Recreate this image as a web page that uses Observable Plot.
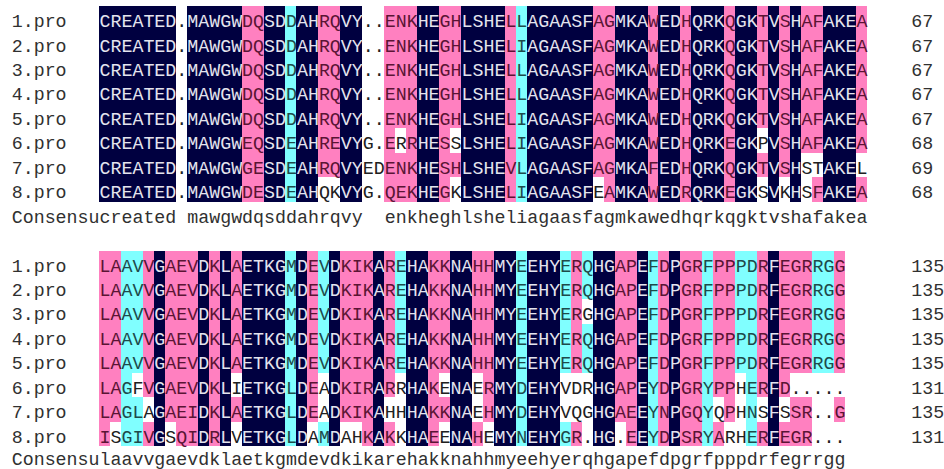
<!DOCTYPE html>
<html><head><meta charset="utf-8">
<script src="https://cdn.jsdelivr.net/npm/d3@7"></script>
<script src="https://cdn.jsdelivr.net/npm/@observablehq/plot@0.6"></script>
<style>body{margin:0;background:#fff}#chart svg{display:block}</style>
</head><body><div id="chart"></div>
<script>
// ---------- data ----------
const seqNames = ["1.pro","2.pro","3.pro","4.pro","5.pro","6.pro","7.pro","8.pro"];

const block1Seqs = [
  "CREATED.MAWGWDQSDDAHRQVY..ENKHEGHLSHELLAGAASFAGMKAWEDHQRKQGKTVSHAFAKEA",
  "CREATED.MAWGWDQSDDAHRQVY..ENKHEGHLSHELIAGAASFAGMKAWEDHQRKQGKTVSHAFAKEA",
  "CREATED.MAWGWDQSDDAHRQVY..ENKHEGHLSHELLAGAASFAGMKAWEDHQRKQGKTVSHAFAKEA",
  "CREATED.MAWGWDQSDDAHRQVY..ENKHEGHLSHELLAGAASFAGMKAWEDHQRKQGKTVSHAFAKEA",
  "CREATED.MAWGWDQSDDAHRQVY..ENKHEGHLSHELIAGAASFAGMKAWEDHQRKQGKTVSHAFAKEA",
  "CREATED.MAWGWEQSDEAHREVYG.ERRHESSLSHELIAGAASFAGMKAWEDHQRKEGKPVSHAFAKEA",
  "CREATED.MAWGWGESDEAHRQVYEDENKHESHLSHEVLAGAASFAGMKAFEDHQRKQGKTVSHSTAKEL",
  "CREATED.MAWGWDESDEAHQKVYG.QEKHEGKLSHELIAGAASFEAMKAWEDRQRKEGKSVKHSFAKEA"
];
// homology shading: N = 100% (navy), P = >=75% (pink), C = >=50% (cyan), W = none
const block1Shade = [
  "NNNNNNNWNNNNNPPNNCNNPPNNWWPPPNNPPNNNNPCNNNNNNPPNNNPNNPNNNPNNPNPNPPNNNP",
  "NNNNNNNWNNNNNPPNNCNNPPNNWWPPPNNPPNNNNPCNNNNNNPPNNNPNNPNNNPNNPNPNPPNNNP",
  "NNNNNNNWNNNNNPPNNCNNPPNNWWPPPNNPPNNNNPCNNNNNNPPNNNPNNPNNNPNNPNPNPPNNNP",
  "NNNNNNNWNNNNNPPNNCNNPPNNWWPPPNNPPNNNNPCNNNNNNPPNNNPNNPNNNPNNPNPNPPNNNP",
  "NNNNNNNWNNNNNPPNNCNNPPNNWWPPPNNPPNNNNPCNNNNNNPPNNNPNNPNNNPNNPNPNPPNNNP",
  "NNNNNNNWNNNNNPPNNCNNPPNNWWPWPNNPWNNNNPCNNNNNNPPNNNPNNPNNNPNNWNPNPPNNNP",
  "NNNNNNNWNNNNNPPNNCNNPPNNWWPPPNNPPNNNNPCNNNNNNPPNNNPNNPNNNPNNPNPNWWNNNW",
  "NNNNNNNWNNNNNPPNNCNNWWNNWWPPPNNPWNNNNPCNNNNNNWPNNNPNNPNNNPNNWNWNWPNNNP"
];
const block1Consensus = "created mawgwdqsddahrqvy  enkheghlsheliagaasfagmkawedhqrkqgktvshafakea";
const block1Ends = [67, 67, 67, 67, 67, 68, 69, 68];

const block2Seqs = [
  "LAAVVGAEVDKLAETKGMDEVDKIKAREHAKKNAHHMYEEHYERQHGAPEFDPGRFPPPDRFEGRRGG",
  "LAAVVGAEVDKLAETKGMDEVDKIKAREHAKKNAHHMYEEHYERQHGAPEFDPGRFPPPDRFEGRRGG",
  "LAAVVGAEVDKLAETKGMDEVDKIKAREHAKKNAHHMYEEHYERGHGAPEFDPGRFPPPDRFEGRRGG",
  "LAAVVGAEVDKLAETKGMDEVDKIKAREHAKKNAHHMYEEHYERQHGAPEFDPGRFPPPDRFEGRRGG",
  "LAAVVGAEVDKLAETKGMDEVDKIKAREHAKKNAHHMYEEHYERQHGAPEFDPGRFPPPDRFEGRRGG",
  "LAGFVGAEVDKLIETKGLDEADKIRARRHAKENAERMYDEHYVDRHGAPEYDPGRYPPHERFD.....",
  "LAGLAGAEIDKLAETKGLDEADKIKAHHHAKKNAEHMYDEHYVQGHGAEEYNPGQYQPHNSFSSR..G",
  "ISGIVGSQIDRLVETKGLDAMDAHKAKKHAEENAHEMYNEHYGR.HG.EEYDPSRYARHERFEGR..."
];
const block2Shade = [
  "PPCCPNPPPNPNPNNNNCNPCNPPPNPCNNPPNNPPNNCNNNCPCNNPPNCPNPPCPPCCPNPPPCCP",
  "PPCCPNPPPNPNPNNNNCNPCNPPPNPCNNPPNNPPNNCNNNCPCNNPPNCPNPPCPPCCPNPPPCCP",
  "PPCCPNPPPNPNPNNNNCNPCNPPPNPCNNPPNNPPNNCNNNCPWNNPPNCPNPPCPPCCPNPPPCCP",
  "PPCCPNPPPNPNPNNNNCNPCNPPPNPCNNPPNNPPNNCNNNCPCNNPPNCPNPPCPPCCPNPPPCCP",
  "PPCCPNPPPNPNPNNNNCNPCNPPPNPCNNPPNNPPNNCNNNCPCNNPPNCPNPPCPPCCPNPPPCCP",
  "PPCWPNPPPNPNWNNNNCNPWNPPPNPWNNPWNNWPNNCNNNWWWNNPPNCPNPPCPPWCPNPWWWWW",
  "PPCCWNPPPNPNPNNNNCNPWNPPPNWWNNPPNNWPNNCNNNWWWNNPPNCPNPPCWPWCWNWPPWWP",
  "PWCCPNWPPNPNWNNNNCNWCNWWPNPWNNPWNNPWNNCNNNCPWNNWPNCPNPPCPWWCPNPPPWWW"
];
const block2Consensus = "laavvgaevdklaetkgmdevdkikarehakknahhmyeehyerqhgapefdpgrfpppdrfegrrgg";
const block2Ends = [135, 135, 135, 135, 135, 131, 135, 131];

const consensusLabel = "Consensu";

// ---------- layout / style ----------
const W = 944, H = 469;
const colW = 10.97, rowH = 24.45, gridLeft = 99, gridTop = 6;
const fontFamily = "'Liberation Mono', 'Courier New', monospace";
const fontSize = 18.3;
const levels = {
  N: {bg: "#000040", fg: "#e4e4ee"},
  P: {bg: "#ff80c0", fg: "#5a1434"},
  C: {bg: "#80ffff", fg: "#1e4a4a"},
  W: {bg: null, fg: "#202020"}
};

const blocks = [
  {seqs: block1Seqs, shade: block1Shade, cons: block1Consensus, ends: block1Ends, row0: 0, consDy: 2.5},
  {seqs: block2Seqs, shade: block2Shade, cons: block2Consensus, ends: block2Ends, row0: 10, consDy: 0}
];

const cells = [], labels = [], ends = [], cons = [];
for (const b of blocks) {
  b.seqs.forEach((s, i) => {
    const r = b.row0 + i;
    [...s].forEach((ch, c) => cells.push({c, r, ch, lvl: b.shade[i][c]}));
    labels.push({r, text: seqNames[i], dy: 2.5});
    ends.push({r, text: String(b.ends[i])});
  });
  const r = b.row0 + b.seqs.length;
  labels.push({r, text: consensusLabel, dy: b.consDy});
  [...b.cons].forEach((ch, c) => cons.push({c, r, ch, dy: b.consDy}));
}

const textOpts = {fontFamily, fontSize, dy: 2.5};
const marks = [];
for (const k of ["N", "P", "C"]) {
  marks.push(Plot.rect(cells.filter(d => d.lvl === k), {
    x1: d => d.c, x2: d => d.c + 1, y1: d => d.r, y2: d => d.r + 1,
    fill: levels[k].bg, shapeRendering: "crispEdges"
  }));
}
for (const k of ["N", "P", "C", "W"]) {
  marks.push(Plot.text(cells.filter(d => d.lvl === k), {
    x: d => d.c + 0.5, y: d => d.r + 0.5, text: d => d.ch, fill: levels[k].fg, ...textOpts
  }));
}
for (const dyv of [2.5, 0]) {
  marks.push(Plot.text(cons.filter(d => d.dy === dyv), {x: d => d.c + 0.5, y: d => d.r + 0.5, text: d => d.ch, fill: "#303030", ...textOpts, dy: dyv}));
  marks.push(Plot.text(labels.filter(d => d.dy === dyv), {x: () => -8, y: d => d.r + 0.5, text: "text", textAnchor: "start", fill: "#303030", ...textOpts, dy: dyv}));
}
marks.push(Plot.text(ends, {x: () => 74, y: d => d.r + 0.5, text: "text", textAnchor: "start", fill: "#303030", ...textOpts}));

const chart = Plot.plot({
  width: W, height: H, margin: 0,
  style: {background: "#fff"},
  x: {type: "linear", domain: [-gridLeft / colW, (W - gridLeft) / colW], range: [0, W], axis: null},
  y: {type: "linear", domain: [-gridTop / rowH, (H - gridTop) / rowH], range: [0, H], axis: null},
  marks
});
document.getElementById("chart").appendChild(chart);
</script>
</body></html>
